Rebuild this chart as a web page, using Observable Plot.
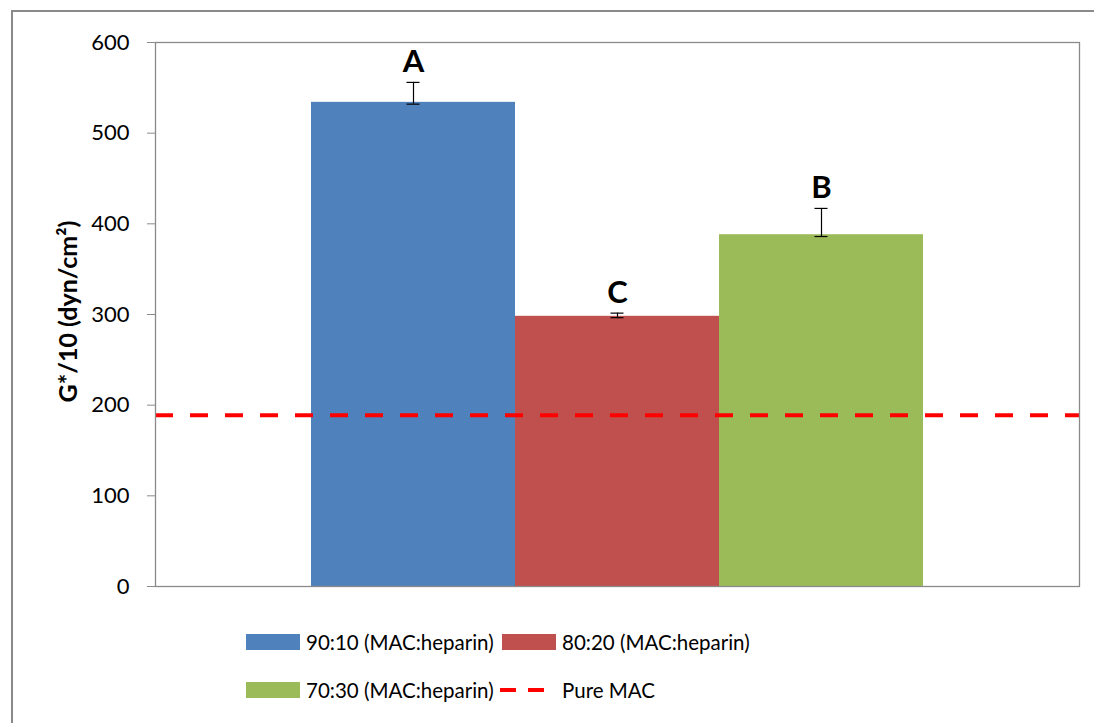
<!DOCTYPE html>
<html>
<head>
<meta charset="utf-8">
<script src="https://cdn.jsdelivr.net/npm/d3@7"></script>
<script src="https://cdn.jsdelivr.net/npm/@observablehq/plot@0.6"></script>
<style>
  html, body { margin: 0; padding: 0; background: #fff; width: 1094px; height: 723px; overflow: hidden; }
  body { position: relative; font-family: Lato, "Open Sans", sans-serif; }
  #outer { position: absolute; left: 11px; top: 10px; width: 1200px; height: 800px; border-left: 2px solid #8a8a8a; border-top: 2px solid #8a8a8a; box-sizing: border-box; }
  #chart { position: absolute; left: 0; top: 0; }
  #legend { position: absolute; left: 0; top: 610px; width: 1094px; height: 113px; }
  .item { position: absolute; display: flex; align-items: center; font-size: 20.5px; color: #000; height: 24px; white-space: nowrap; }
  .sw { width: 54px; height: 16px; margin-right: 6px; }
</style>
</head>
<body>
<div id="outer"></div>
<div id="chart"></div>
<div id="legend"></div>
<script>
// ---- data ----
const series = ["90:10 (MAC:heparin)", "80:20 (MAC:heparin)", "70:30 (MAC:heparin)"];
const values = [534, 298, 388];
const errLow = [532, 296.5, 386];
const errHigh = [556, 301.5, 417];
const letters = ["A", "C", "B"];
const colors = ["#4F81BD", "#C0504D", "#9BBB59"];
const pureMacValue = 189;
const pureMacLabel = "Pure MAC";
const yTicks = [0, 100, 200, 300, 400, 500, 600];
const yLabel = "G*/10 (dyn/cm²)";

const data = series.map((s, i) => ({s, v: values[i], lo: errLow[i], hi: errHigh[i], letter: letters[i]}));

const chart = Plot.plot({
  width: 1094,
  height: 610,
  marginTop: 42,
  marginBottom: 24,
  marginLeft: 155,
  marginRight: 15,
  style: {fontFamily: "Lato, 'Open Sans', sans-serif", fontSize: "22px", background: "transparent"},
  x: {domain: series, paddingInner: 0, paddingOuter: 0.757, axis: null},
  y: {domain: [0, 600]},
  color: {domain: series, range: colors},
  marks: [
    Plot.barY(data, {x: "s", y: "v", fill: "s"}),
    Plot.ruleX(data, {x: "s", y1: "lo", y2: "hi", stroke: "#000", strokeWidth: 1.2}),
    Plot.tickY(data, {x: "s", y: "lo", stroke: "#000", strokeWidth: 1.2, insetLeft: 95.5, insetRight: 95.5}),
    Plot.tickY(data, {x: "s", y: "hi", stroke: "#000", strokeWidth: 1.2, insetLeft: 95.5, insetRight: 95.5}),
    Plot.text(data, {x: "s", y: "hi", text: "letter", lineAnchor: "bottom", dy: -10, fontSize: 31, fontWeight: "bold", fill: "#000"}),
    Plot.ruleY([pureMacValue], {stroke: "#FF0000", strokeWidth: 4, strokeDasharray: "18,17", strokeLinecap: "butt"}),
    Plot.frame({stroke: "#8a8a8a", strokeWidth: 1.3}),
    Plot.axisY({ticks: yTicks, tickSize: 8, tickFormat: () => "", stroke: "#8a8a8a", label: null}),
    Plot.text(yTicks, {y: d => d, text: d => String(d), frameAnchor: "left", textAnchor: "end", dx: -26, fontSize: 22, fill: "#000"}),
    Plot.text([yLabel], {frameAnchor: "left", textAnchor: "middle", dx: -87, dy: -3, rotate: -90, text: d => d, fontSize: 25, fontWeight: "bold", fill: "#000"})
  ]
});
document.getElementById("chart").appendChild(chart);

// ---- legend ----
const legend = document.getElementById("legend");
const legendPos = [[246, 20], [502, 20], [246, 68]];
series.forEach((s, i) => {
  const it = document.createElement("div");
  it.className = "item";
  it.style.left = legendPos[i][0] + "px";
  it.style.top = legendPos[i][1] + "px";
  const sw = document.createElement("div");
  sw.className = "sw";
  sw.style.background = colors[i];
  it.appendChild(sw);
  const t = document.createElement("span");
  t.textContent = s;
  it.appendChild(t);
  legend.appendChild(it);
});
const pm = document.createElement("div");
pm.className = "item";
pm.style.left = "500px";
pm.style.top = "68px";
pm.innerHTML = '<svg width="62" height="24" style="margin-right:0"><line x1="0" x2="44" y1="12" y2="12" stroke="#FF0000" stroke-width="4" stroke-dasharray="16,12"/></svg>';
const pmt = document.createElement("span");
pmt.textContent = pureMacLabel;
pm.appendChild(pmt);
legend.appendChild(pm);
</script>
</body>
</html>
